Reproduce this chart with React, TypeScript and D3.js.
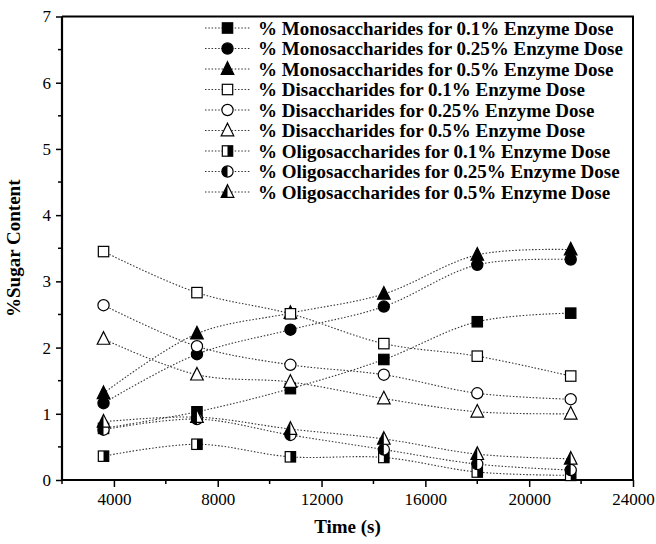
import * as React from 'react';
import * as d3 from 'd3';

const times = [3600, 7200, 10800, 14400, 18000, 21600];

const mono01 = [0.78, 1.03, 1.38, 1.82, 2.39, 2.52];
const mono025 = [1.16, 1.9, 2.27, 2.62, 3.25, 3.33];
const mono05 = [1.31, 2.21, 2.52, 2.81, 3.4, 3.48];
const di01 = [3.45, 2.83, 2.51, 2.06, 1.87, 1.57];
const di025 = [2.64, 2.02, 1.74, 1.59, 1.31, 1.22];
const di05 = [2.13, 1.59, 1.48, 1.23, 1.03, 1.0];
const oligo01 = [0.36, 0.54, 0.35, 0.34, 0.12, 0.07];
const oligo025 = [0.76, 0.92, 0.68, 0.46, 0.24, 0.15];
const oligo05 = [0.88, 0.95, 0.77, 0.62, 0.39, 0.32];

const seriesNames = [
  '% Monosaccharides for 0.1% Enzyme Dose',
  '% Monosaccharides for 0.25% Enzyme Dose',
  '% Monosaccharides for 0.5% Enzyme Dose',
  '% Disaccharides for 0.1% Enzyme Dose',
  '% Disaccharides for 0.25% Enzyme Dose',
  '% Disaccharides for 0.5% Enzyme Dose',
  '% Oligosaccharides for 0.1% Enzyme Dose',
  '% Oligosaccharides for 0.25% Enzyme Dose',
  '% Oligosaccharides for 0.5% Enzyme Dose',
];
const seriesValues = [mono01, mono025, mono05, di01, di025, di05, oligo01, oligo025, oligo05];
// marker shape + fill kind for each series
const seriesShapes = ['square', 'circle', 'triangle', 'square', 'circle', 'triangle', 'square', 'circle', 'triangle'];
const seriesFills = ['full', 'full', 'full', 'open', 'open', 'open', 'half', 'half', 'half'];

const xTicks = [4000, 8000, 12000, 16000, 20000, 24000];
const yTicks = [0, 1, 2, 3, 4, 5, 6, 7];

const FONT = "'Liberation Serif', 'Times New Roman', serif";

function drawMarker(g, shape, fill, cx, cy) {
  const s = 5.2;
  const fillColor = fill === 'full' ? '#000' : '#fff';
  if (shape === 'square') {
    g.append('rect')
      .attr('x', cx - s).attr('y', cy - s)
      .attr('width', 2 * s).attr('height', 2 * s)
      .attr('fill', fillColor).attr('stroke', '#000').attr('stroke-width', 1.2);
    if (fill === 'half') {
      g.append('rect')
        .attr('x', cx).attr('y', cy - s)
        .attr('width', s).attr('height', 2 * s)
        .attr('fill', '#000');
    }
  } else if (shape === 'circle') {
    const r = 5.6;
    g.append('circle')
      .attr('cx', cx).attr('cy', cy).attr('r', r)
      .attr('fill', fillColor).attr('stroke', '#000').attr('stroke-width', 1.2);
    if (fill === 'half') {
      g.append('path')
        .attr('d', `M${cx},${cy - r} A${r},${r} 0 0 0 ${cx},${cy + r} Z`)
        .attr('fill', '#000');
    }
  } else {
    const h = 6.3;
    const pts = [[cx, cy - h - 1], [cx + h, cy + h - 1], [cx - h, cy + h - 1]];
    g.append('polygon')
      .attr('points', pts.map(p => p.join(',')).join(' '))
      .attr('fill', fillColor).attr('stroke', '#000').attr('stroke-width', 1.2)
      .attr('stroke-linejoin', 'miter');
    if (fill === 'half') {
      g.append('polygon')
        .attr('points', [[cx, cy - h - 1], [cx, cy + h - 1], [cx - h, cy + h - 1]].map(p => p.join(',')).join(' '))
        .attr('fill', '#000');
    }
  }
}

class SugarChart extends React.Component {
  private element;

  componentDidMount() {
    document.body.style.margin = '0';
    this.draw();
  }

  draw() {
    const svg = d3.select(this.element);
    svg.selectAll('*').remove();

    const left = 62, right = 633, top = 16.5, bottom = 480;
    const x = d3.scaleLinear().domain([2000, 24000]).range([left, right]);
    const y = d3.scaleLinear().domain([0, 7]).range([bottom, top]);

    svg.append('rect').attr('width', 656).attr('height', 544).attr('fill', '#fff');

    // frame top & right
    svg.append('path')
      .attr('d', `M${left},${top} H${right} V${bottom}`)
      .attr('fill', 'none').attr('stroke', '#000').attr('stroke-width', 2);

    // minor ticks
    const xMinor = d3.range(2000, 24001, 2000).filter(v => v % 4000 !== 0);
    svg.append('g').selectAll('line').data(xMinor).enter().append('line')
      .attr('x1', d => x(d)).attr('x2', d => x(d))
      .attr('y1', bottom).attr('y2', bottom + 4)
      .attr('stroke', '#000').attr('stroke-width', 1.5);
    const yMinor = d3.range(0.5, 7, 1);
    svg.append('g').selectAll('line').data(yMinor).enter().append('line')
      .attr('x1', left - 4).attr('x2', left)
      .attr('y1', d => y(d)).attr('y2', d => y(d))
      .attr('stroke', '#000').attr('stroke-width', 1.5);

    const xAxis = d3.axisBottom(x).tickValues(xTicks).tickSize(7).tickSizeOuter(0).tickPadding(6)
      .tickFormat(d3.format('d'));
    const xg = svg.append('g').attr('transform', `translate(0,${bottom})`).call(xAxis);
    xg.select('.domain').remove();
    xg.selectAll('.tick line').attr('stroke-width', 1.5);
    xg.selectAll('.tick text').attr('font-family', FONT).attr('font-size', 17).attr('fill', '#000');

    const yAxis = d3.axisLeft(y).tickValues(yTicks).tickSize(6).tickSizeOuter(0).tickPadding(5)
      .tickFormat(d3.format('d'));
    const yg = svg.append('g').attr('transform', `translate(${left},0)`).call(yAxis);
    yg.select('.domain').remove();
    yg.selectAll('.tick line').attr('stroke-width', 1.5);
    yg.selectAll('.tick text').attr('font-family', FONT).attr('font-size', 17).attr('fill', '#000');

    // axes lines
    svg.append('path')
      .attr('d', `M${left},${top} V${bottom} H${right}`)
      .attr('fill', 'none').attr('stroke', '#000').attr('stroke-width', 2.2);

    // series lines
    const line = d3.line<number>()
      .x((d, i) => x(times[i]))
      .y(d => y(d))
      .curve(d3.curveCatmullRom.alpha(0.5));

    const lines = svg.append('g');
    seriesValues.forEach(vals => {
      lines.append('path')
        .attr('d', line(vals))
        .attr('fill', 'none')
        .attr('stroke', '#333')
        .attr('stroke-width', 1.1)
        .attr('stroke-dasharray', '1.5,1.8');
    });

    const markers = svg.append('g');
    seriesValues.forEach((vals, si) => {
      vals.forEach((v, i) => {
        drawMarker(markers, seriesShapes[si], seriesFills[si], x(times[i]), y(v));
      });
    });

    // legend
    const lg = svg.append('g');
    seriesNames.forEach((name, i) => {
      const ly = 28 + i * 20.5;
      lg.append('line')
        .attr('x1', 205).attr('x2', 250).attr('y1', ly).attr('y2', ly)
        .attr('stroke', '#333').attr('stroke-width', 1.1).attr('stroke-dasharray', '1.5,1.8');
      drawMarker(lg, seriesShapes[i], seriesFills[i], 227.5, ly);
      lg.append('text')
        .attr('x', 258).attr('y', ly)
        .attr('dy', '0.35em')
        .attr('font-family', FONT).attr('font-weight', 'bold').attr('font-size', 19)
        .attr('fill', '#000')
        .text(name);
    });

    // axis titles
    svg.append('text')
      .attr('x', (left + right) / 2).attr('y', 533)
      .attr('text-anchor', 'middle')
      .attr('font-family', FONT).attr('font-weight', 'bold').attr('font-size', 19)
      .text('Time (s)');
    svg.append('text')
      .attr('transform', `translate(20,${(top + bottom) / 2}) rotate(-90)`)
      .attr('text-anchor', 'middle')
      .attr('font-family', FONT).attr('font-weight', 'bold').attr('font-size', 19)
      .text('%Sugar Content');
  }

  render() {
    return <svg ref={(ref) => (this.element = ref)} width={656} height={544} style={{ display: 'block' }} />;
  }
}

export default function App() {
  return <SugarChart />;
}
